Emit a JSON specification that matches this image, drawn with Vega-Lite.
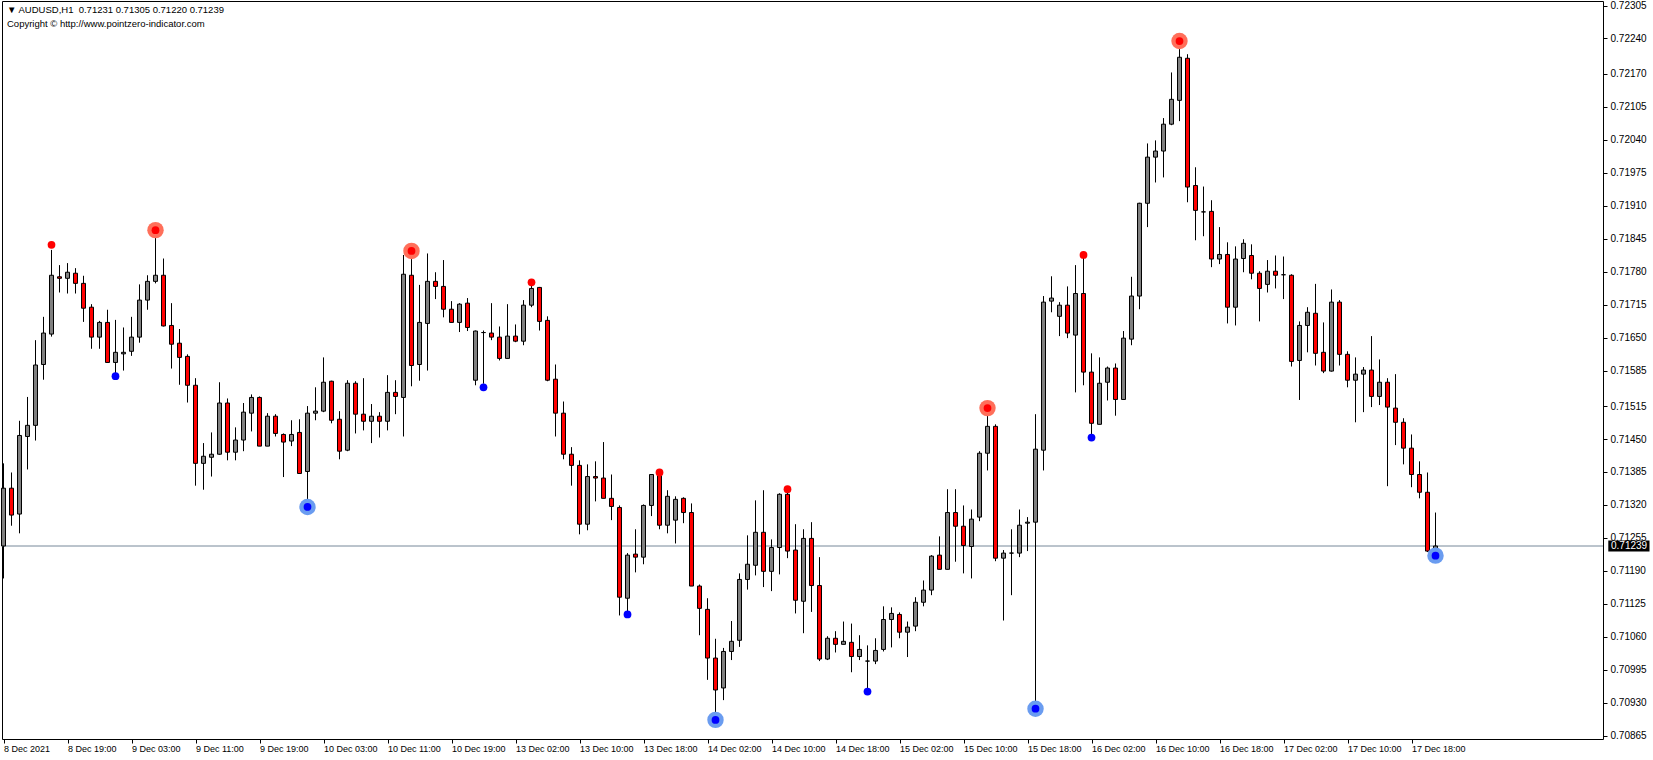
{
  "$schema": "https://vega.github.io/schema/vega-lite/v6.json",
  "width": 1601,
  "height": 738,
  "autosize": "none",
  "padding": {"left": 2, "top": 1, "right": 50, "bottom": 21},
  "background": "white",
  "title": {
    "text": "▼ AUDUSD,H1 \u00a00.71231 0.71305 0.71220 0.71239",
    "subtitle": "Copyright © http://www.pointzero-indicator.com",
    "anchor": "start",
    "frame": "group",
    "orient": "top",
    "baseline": "top",
    "offset": 0,
    "dx": 5,
    "dy": 28,
    "font": "Liberation Sans",
    "fontSize": 9.5,
    "fontWeight": "normal",
    "color": "black",
    "subtitleFont": "Liberation Sans",
    "subtitleFontSize": 9.5,
    "subtitleColor": "black",
    "subtitlePadding": 5
  },
  "config": {
    "view": {"stroke": "black", "strokeWidth": 1},
    "axis": {
      "labelFont": "Liberation Sans",
      "labelFontSize": 10,
      "labelColor": "black",
      "tickColor": "black",
      "tickSize": 4,
      "domain": false,
      "grid": false,
      "title": null,
      "labelFlush": false,
      "labelOverlap": false,
      "labelBound": false
    }
  },
  "datasets": {
    "candles": [
      {"i":0,"o":0.71239,"h":0.71402,"l":0.71175,"c":0.71353},
      {"i":1,"o":0.71353,"h":0.71384,"l":0.71279,"c":0.71300},
      {"i":2,"o":0.71302,"h":0.71486,"l":0.71264,"c":0.71457},
      {"i":3,"o":0.71455,"h":0.71533,"l":0.71390,"c":0.71477},
      {"i":4,"o":0.71477,"h":0.71645,"l":0.71447,"c":0.71596},
      {"i":5,"o":0.71597,"h":0.71691,"l":0.71567,"c":0.71659},
      {"i":6,"o":0.71657,"h":0.71823,"l":0.71652,"c":0.71773},
      {"i":7,"o":0.71770,"h":0.71793,"l":0.71739,"c":0.71767},
      {"i":8,"o":0.71767,"h":0.71797,"l":0.71737,"c":0.71779},
      {"i":9,"o":0.71777,"h":0.71787,"l":0.71737,"c":0.71757},
      {"i":10,"o":0.71757,"h":0.71772,"l":0.71681,"c":0.71708},
      {"i":11,"o":0.71710,"h":0.71716,"l":0.71628,"c":0.71651},
      {"i":12,"o":0.71651,"h":0.71683,"l":0.71628,"c":0.71680},
      {"i":13,"o":0.71680,"h":0.71705,"l":0.71601,"c":0.71601},
      {"i":14,"o":0.71601,"h":0.71685,"l":0.71580,"c":0.71621},
      {"i":15,"o":0.71618,"h":0.71670,"l":0.71585,"c":0.71621},
      {"i":16,"o":0.71623,"h":0.71691,"l":0.71614,"c":0.71651},
      {"i":17,"o":0.71651,"h":0.71755,"l":0.71640,"c":0.71724},
      {"i":18,"o":0.71724,"h":0.71773,"l":0.71705,"c":0.71761},
      {"i":19,"o":0.71761,"h":0.71862,"l":0.71757,"c":0.71773},
      {"i":20,"o":0.71773,"h":0.71806,"l":0.71672,"c":0.71673},
      {"i":21,"o":0.71674,"h":0.71718,"l":0.71589,"c":0.71637},
      {"i":22,"o":0.71639,"h":0.71667,"l":0.71557,"c":0.71611},
      {"i":23,"o":0.71613,"h":0.71617,"l":0.71522,"c":0.71556},
      {"i":24,"o":0.71556,"h":0.71570,"l":0.71358,"c":0.71402},
      {"i":25,"o":0.71402,"h":0.71442,"l":0.71350,"c":0.71416},
      {"i":26,"o":0.71414,"h":0.71463,"l":0.71376,"c":0.71420},
      {"i":27,"o":0.71420,"h":0.71562,"l":0.71419,"c":0.71521},
      {"i":28,"o":0.71521,"h":0.71530,"l":0.71408,"c":0.71424},
      {"i":29,"o":0.71424,"h":0.71473,"l":0.71408,"c":0.71448},
      {"i":30,"o":0.71448,"h":0.71521,"l":0.71426,"c":0.71503},
      {"i":31,"o":0.71501,"h":0.71538,"l":0.71465,"c":0.71532},
      {"i":32,"o":0.71532,"h":0.71534,"l":0.71436,"c":0.71436},
      {"i":33,"o":0.71436,"h":0.71501,"l":0.71436,"c":0.71495},
      {"i":34,"o":0.71495,"h":0.71499,"l":0.71455,"c":0.71461},
      {"i":35,"o":0.71459,"h":0.71461,"l":0.71375,"c":0.71444},
      {"i":36,"o":0.71446,"h":0.71487,"l":0.71436,"c":0.71459},
      {"i":37,"o":0.71463,"h":0.71489,"l":0.71382,"c":0.71382},
      {"i":38,"o":0.71386,"h":0.71515,"l":0.71318,"c":0.71501},
      {"i":39,"o":0.71501,"h":0.71552,"l":0.71487,"c":0.71505},
      {"i":40,"o":0.71505,"h":0.71611,"l":0.71503,"c":0.71562},
      {"i":41,"o":0.71564,"h":0.71565,"l":0.71481,"c":0.71487},
      {"i":42,"o":0.71489,"h":0.71505,"l":0.71410,"c":0.71426},
      {"i":43,"o":0.71428,"h":0.71566,"l":0.71426,"c":0.71560},
      {"i":44,"o":0.71560,"h":0.71564,"l":0.71461,"c":0.71499},
      {"i":45,"o":0.71499,"h":0.71570,"l":0.71467,"c":0.71485},
      {"i":46,"o":0.71485,"h":0.71519,"l":0.71442,"c":0.71495},
      {"i":47,"o":0.71495,"h":0.71503,"l":0.71453,"c":0.71485},
      {"i":48,"o":0.71485,"h":0.71576,"l":0.71467,"c":0.71542},
      {"i":49,"o":0.71542,"h":0.71566,"l":0.71499,"c":0.71534},
      {"i":50,"o":0.71532,"h":0.71813,"l":0.71455,"c":0.71775},
      {"i":51,"o":0.71773,"h":0.71819,"l":0.71554,"c":0.71595},
      {"i":52,"o":0.71597,"h":0.71754,"l":0.71565,"c":0.71680},
      {"i":53,"o":0.71678,"h":0.71816,"l":0.71585,"c":0.71761},
      {"i":54,"o":0.71761,"h":0.71779,"l":0.71726,"c":0.71751},
      {"i":55,"o":0.71751,"h":0.71803,"l":0.71690,"c":0.71706},
      {"i":56,"o":0.71706,"h":0.71722,"l":0.71680,"c":0.71680},
      {"i":57,"o":0.71680,"h":0.71718,"l":0.71661,"c":0.71716},
      {"i":58,"o":0.71718,"h":0.71728,"l":0.71663,"c":0.71670},
      {"i":59,"o":0.71566,"h":0.71664,"l":0.71556,"c":0.71663},
      {"i":60,"o":0.71660,"h":0.71664,"l":0.71559,"c":0.71660},
      {"i":61,"o":0.71659,"h":0.71718,"l":0.71645,"c":0.71651},
      {"i":62,"o":0.71651,"h":0.71672,"l":0.71605,"c":0.71609},
      {"i":63,"o":0.71609,"h":0.71716,"l":0.71609,"c":0.71653},
      {"i":64,"o":0.71653,"h":0.71676,"l":0.71641,"c":0.71643},
      {"i":65,"o":0.71643,"h":0.71724,"l":0.71635,"c":0.71714},
      {"i":66,"o":0.71714,"h":0.71759,"l":0.71710,"c":0.71747},
      {"i":67,"o":0.71749,"h":0.71750,"l":0.71664,"c":0.71682},
      {"i":68,"o":0.71684,"h":0.71692,"l":0.71564,"c":0.71566},
      {"i":69,"o":0.71568,"h":0.71597,"l":0.71455,"c":0.71501},
      {"i":70,"o":0.71501,"h":0.71524,"l":0.71410,"c":0.71420},
      {"i":71,"o":0.71420,"h":0.71434,"l":0.71358,"c":0.71398},
      {"i":72,"o":0.71398,"h":0.71408,"l":0.71262,"c":0.71282},
      {"i":73,"o":0.71282,"h":0.71400,"l":0.71270,"c":0.71376},
      {"i":74,"o":0.71376,"h":0.71406,"l":0.71327,"c":0.71373},
      {"i":75,"o":0.71373,"h":0.71444,"l":0.71333,"c":0.71333},
      {"i":76,"o":0.71333,"h":0.71380,"l":0.71290,"c":0.71317},
      {"i":77,"o":0.71315,"h":0.71319,"l":0.71102,"c":0.71138},
      {"i":78,"o":0.71136,"h":0.71225,"l":0.71109,"c":0.71221},
      {"i":79,"o":0.71223,"h":0.71272,"l":0.71187,"c":0.71217},
      {"i":80,"o":0.71217,"h":0.71321,"l":0.71203,"c":0.71319},
      {"i":81,"o":0.71319,"h":0.71381,"l":0.71298,"c":0.71380},
      {"i":82,"o":0.71378,"h":0.71388,"l":0.71272,"c":0.71280},
      {"i":83,"o":0.71280,"h":0.71349,"l":0.71264,"c":0.71337},
      {"i":84,"o":0.71290,"h":0.71337,"l":0.71244,"c":0.71331},
      {"i":85,"o":0.71333,"h":0.71335,"l":0.71284,"c":0.71305},
      {"i":86,"o":0.71305,"h":0.71323,"l":0.71160,"c":0.71160},
      {"i":87,"o":0.71160,"h":0.71163,"l":0.71063,"c":0.71116},
      {"i":88,"o":0.71114,"h":0.71136,"l":0.70975,"c":0.71018},
      {"i":89,"o":0.71018,"h":0.71056,"l":0.70896,"c":0.70955},
      {"i":90,"o":0.70959,"h":0.71038,"l":0.70935,"c":0.71031},
      {"i":91,"o":0.71031,"h":0.71091,"l":0.71014,"c":0.71051},
      {"i":92,"o":0.71053,"h":0.71185,"l":0.71040,"c":0.71173},
      {"i":93,"o":0.71173,"h":0.71260,"l":0.71153,"c":0.71203},
      {"i":94,"o":0.71201,"h":0.71329,"l":0.71181,"c":0.71266},
      {"i":95,"o":0.71266,"h":0.71349,"l":0.71158,"c":0.71189},
      {"i":96,"o":0.71189,"h":0.71252,"l":0.71150,"c":0.71236},
      {"i":97,"o":0.71236,"h":0.71343,"l":0.71183,"c":0.71341},
      {"i":98,"o":0.71341,"h":0.71353,"l":0.71215,"c":0.71229},
      {"i":99,"o":0.71231,"h":0.71282,"l":0.71106,"c":0.71132},
      {"i":100,"o":0.71130,"h":0.71272,"l":0.71067,"c":0.71254},
      {"i":101,"o":0.71254,"h":0.71286,"l":0.71109,"c":0.71161},
      {"i":102,"o":0.71161,"h":0.71217,"l":0.71012,"c":0.71016},
      {"i":103,"o":0.71016,"h":0.71061,"l":0.71014,"c":0.71057},
      {"i":104,"o":0.71057,"h":0.71071,"l":0.71029,"c":0.71045},
      {"i":105,"o":0.71045,"h":0.71090,"l":0.71045,"c":0.71051},
      {"i":106,"o":0.71049,"h":0.71086,"l":0.70990,"c":0.71021},
      {"i":107,"o":0.71021,"h":0.71063,"l":0.71014,"c":0.71035},
      {"i":108,"o":0.71012,"h":0.71043,"l":0.70957,"c":0.71012},
      {"i":109,"o":0.71012,"h":0.71057,"l":0.71006,"c":0.71033},
      {"i":110,"o":0.71035,"h":0.71120,"l":0.71031,"c":0.71094},
      {"i":111,"o":0.71094,"h":0.71118,"l":0.71039,"c":0.71106},
      {"i":112,"o":0.71104,"h":0.71108,"l":0.71057,"c":0.71069},
      {"i":113,"o":0.71069,"h":0.71090,"l":0.71020,"c":0.71079},
      {"i":114,"o":0.71081,"h":0.71138,"l":0.71071,"c":0.71128},
      {"i":115,"o":0.71128,"h":0.71171,"l":0.71120,"c":0.71152},
      {"i":116,"o":0.71152,"h":0.71221,"l":0.71142,"c":0.71219},
      {"i":117,"o":0.71221,"h":0.71258,"l":0.71193,"c":0.71193},
      {"i":118,"o":0.71193,"h":0.71351,"l":0.71193,"c":0.71305},
      {"i":119,"o":0.71305,"h":0.71351,"l":0.71208,"c":0.71278},
      {"i":120,"o":0.71278,"h":0.71319,"l":0.71185,"c":0.71240},
      {"i":121,"o":0.71238,"h":0.71311,"l":0.71175,"c":0.71292},
      {"i":122,"o":0.71296,"h":0.71426,"l":0.71288,"c":0.71422},
      {"i":123,"o":0.71422,"h":0.71509,"l":0.71388,"c":0.71475},
      {"i":124,"o":0.71475,"h":0.71479,"l":0.71209,"c":0.71215},
      {"i":125,"o":0.71215,"h":0.71231,"l":0.71092,"c":0.71225},
      {"i":126,"o":0.71225,"h":0.71272,"l":0.71142,"c":0.71225},
      {"i":127,"o":0.71225,"h":0.71311,"l":0.71217,"c":0.71280},
      {"i":128,"o":0.71284,"h":0.71296,"l":0.71229,"c":0.71286},
      {"i":129,"o":0.71286,"h":0.71499,"l":0.70920,"c":0.71430},
      {"i":130,"o":0.71428,"h":0.71732,"l":0.71388,"c":0.71720},
      {"i":131,"o":0.71722,"h":0.71771,"l":0.71700,"c":0.71728},
      {"i":132,"o":0.71692,"h":0.71720,"l":0.71653,"c":0.71714},
      {"i":133,"o":0.71714,"h":0.71751,"l":0.71649,"c":0.71659},
      {"i":134,"o":0.71655,"h":0.71793,"l":0.71542,"c":0.71737},
      {"i":135,"o":0.71737,"h":0.71808,"l":0.71556,"c":0.71582},
      {"i":136,"o":0.71582,"h":0.71619,"l":0.71458,"c":0.71481},
      {"i":137,"o":0.71479,"h":0.71611,"l":0.71479,"c":0.71560},
      {"i":138,"o":0.71562,"h":0.71593,"l":0.71526,"c":0.71590},
      {"i":139,"o":0.71590,"h":0.71599,"l":0.71496,"c":0.71528},
      {"i":140,"o":0.71528,"h":0.71663,"l":0.71527,"c":0.71649},
      {"i":141,"o":0.71647,"h":0.71770,"l":0.71635,"c":0.71732},
      {"i":142,"o":0.71732,"h":0.71916,"l":0.71706,"c":0.71915},
      {"i":143,"o":0.71915,"h":0.72033,"l":0.71868,"c":0.72006},
      {"i":144,"o":0.72006,"h":0.72039,"l":0.71956,"c":0.72018},
      {"i":145,"o":0.72018,"h":0.72083,"l":0.71966,"c":0.72071},
      {"i":146,"o":0.72071,"h":0.72173,"l":0.72069,"c":0.72120},
      {"i":147,"o":0.72118,"h":0.72235,"l":0.72077,"c":0.72203},
      {"i":148,"o":0.72201,"h":0.72209,"l":0.71917,"c":0.71947},
      {"i":149,"o":0.71950,"h":0.71986,"l":0.71842,"c":0.71901},
      {"i":150,"o":0.71898,"h":0.71948,"l":0.71850,"c":0.71898},
      {"i":151,"o":0.71899,"h":0.71921,"l":0.71789,"c":0.71805},
      {"i":152,"o":0.71805,"h":0.71868,"l":0.71795,"c":0.71814},
      {"i":153,"o":0.71814,"h":0.71838,"l":0.71678,"c":0.71710},
      {"i":154,"o":0.71710,"h":0.71830,"l":0.71674,"c":0.71805},
      {"i":155,"o":0.71806,"h":0.71844,"l":0.71779,"c":0.71836},
      {"i":156,"o":0.71812,"h":0.71834,"l":0.71765,"c":0.71777},
      {"i":157,"o":0.71777,"h":0.71781,"l":0.71682,"c":0.71747},
      {"i":158,"o":0.71755,"h":0.71803,"l":0.71739,"c":0.71781},
      {"i":159,"o":0.71781,"h":0.71812,"l":0.71747,"c":0.71773},
      {"i":160,"o":0.71774,"h":0.71810,"l":0.71726,"c":0.71774},
      {"i":161,"o":0.71773,"h":0.71775,"l":0.71593,"c":0.71603},
      {"i":162,"o":0.71605,"h":0.71682,"l":0.71527,"c":0.71674},
      {"i":163,"o":0.71674,"h":0.71710,"l":0.71621,"c":0.71700},
      {"i":164,"o":0.71698,"h":0.71756,"l":0.71595,"c":0.71619},
      {"i":165,"o":0.71621,"h":0.71680,"l":0.71580,"c":0.71584},
      {"i":166,"o":0.71584,"h":0.71745,"l":0.71583,"c":0.71720},
      {"i":167,"o":0.71720,"h":0.71724,"l":0.71595,"c":0.71617},
      {"i":168,"o":0.71617,"h":0.71623,"l":0.71552,"c":0.71566},
      {"i":169,"o":0.71566,"h":0.71611,"l":0.71483,"c":0.71578},
      {"i":170,"o":0.71578,"h":0.71592,"l":0.71503,"c":0.71586},
      {"i":171,"o":0.71586,"h":0.71653,"l":0.71513,"c":0.71534},
      {"i":172,"o":0.71534,"h":0.71607,"l":0.71517,"c":0.71562},
      {"i":173,"o":0.71562,"h":0.71570,"l":0.71357,"c":0.71513},
      {"i":174,"o":0.71511,"h":0.71578,"l":0.71438,"c":0.71483},
      {"i":175,"o":0.71483,"h":0.71491,"l":0.71400,"c":0.71432},
      {"i":176,"o":0.71432,"h":0.71459,"l":0.71355,"c":0.71380},
      {"i":177,"o":0.71380,"h":0.71406,"l":0.71333,"c":0.71345},
      {"i":178,"o":0.71345,"h":0.71384,"l":0.71227,"c":0.71229},
      {"i":179,"o":0.71231,"h":0.71305,"l":0.71220,"c":0.71239}
    ],
    "fractals": [
      {"i":6,"p":0.71833,"dir":"up","big":false},
      {"i":66,"p":0.71759,"dir":"up","big":false},
      {"i":82,"p":0.71384,"dir":"up","big":false},
      {"i":98,"p":0.71351,"dir":"up","big":false},
      {"i":135,"p":0.71813,"dir":"up","big":false},
      {"i":19,"p":0.71862,"dir":"up","big":true},
      {"i":51,"p":0.71821,"dir":"up","big":true},
      {"i":123,"p":0.71511,"dir":"up","big":true},
      {"i":147,"p":0.72235,"dir":"up","big":true},
      {"i":14,"p":0.71574,"dir":"down","big":false},
      {"i":60,"p":0.71552,"dir":"down","big":false},
      {"i":78,"p":0.71104,"dir":"down","big":false},
      {"i":108,"p":0.70952,"dir":"down","big":false},
      {"i":136,"p":0.71453,"dir":"down","big":false},
      {"i":38,"p":0.71316,"dir":"down","big":true},
      {"i":89,"p":0.70896,"dir":"down","big":true},
      {"i":129,"p":0.70918,"dir":"down","big":true},
      {"i":179,"p":0.71220,"dir":"down","big":true}
    ],
    "last": [{"p": 0.71239, "label": "0.71239"}]
  },
  "encoding": {
    "x": {
      "type": "quantitative",
      "scale": {"domain": [-0.1875, 199.9375], "nice": false, "zero": false, "padding": 0},
      "axis": {
        "values": [0,8,16,24,32,40,48,56,64,72,80,88,96,104,112,120,128,136,144,152,160,168,176],
        "labelExpr": "['8 Dec 2021','8 Dec 19:00','9 Dec 03:00','9 Dec 11:00','9 Dec 19:00','10 Dec 03:00','10 Dec 11:00','10 Dec 19:00','13 Dec 02:00','13 Dec 10:00','13 Dec 18:00','14 Dec 02:00','14 Dec 10:00','14 Dec 18:00','15 Dec 02:00','15 Dec 10:00','15 Dec 18:00','16 Dec 02:00','16 Dec 10:00','16 Dec 18:00','17 Dec 02:00','17 Dec 10:00','17 Dec 18:00'][round(datum.value/8)]",
        "labelAlign": "left",
        "labelBaseline": "top",
        "labelFontSize": 9,
        "labelPadding": 1,
        "labelOffset": 0
      }
    },
    "y": {
      "type": "quantitative",
      "scale": {"domain": [0.7085833, 0.7231395], "nice": false, "zero": false, "padding": 0},
      "axis": {
        "orient": "right",
        "values": [0.72305,0.72240,0.72170,0.72105,0.72040,0.71975,0.71910,0.71845,0.71780,0.71715,0.71650,0.71585,0.71515,0.71450,0.71385,0.71320,0.71255,0.71190,0.71125,0.71060,0.70995,0.70930,0.70865],
        "format": ".5f",
        "labelPadding": 3,
        "labelBaseline": "middle"
      }
    }
  },
  "layer": [
    {
      "data": {"name": "last"},
      "mark": {"type": "rule", "color": "#778899", "strokeWidth": 1},
      "encoding": {"y": {"field": "p", "type": "quantitative"}}
    },
    {
      "data": {"name": "candles"},
      "mark": {"type": "rule", "color": "black", "strokeWidth": 1},
      "encoding": {
        "x": {"field": "i", "type": "quantitative"},
        "y": {"field": "l", "type": "quantitative"},
        "y2": {"field": "h"}
      }
    },
    {
      "data": {"name": "candles"},
      "mark": {"type": "bar", "size": 4, "stroke": "black", "strokeWidth": 1},
      "encoding": {
        "x": {"field": "i", "type": "quantitative"},
        "y": {"field": "o", "type": "quantitative"},
        "y2": {"field": "c"},
        "color": {"condition": {"test": "datum.c < datum.o", "value": "#ff0000"}, "value": "#808080"}
      }
    },
    {
      "data": {"name": "fractals"},
      "transform": [{"filter": "datum.big"}],
      "mark": {"type": "point", "filled": true, "size": 270, "opacity": 1},
      "encoding": {
        "x": {"field": "i", "type": "quantitative"},
        "y": {"field": "p", "type": "quantitative"},
        "color": {"field": "dir", "type": "nominal", "scale": {"domain": ["up", "down"], "range": ["#ff6f5a", "#6a9cf0"]}, "legend": null}
      }
    },
    {
      "data": {"name": "fractals"},
      "mark": {"type": "point", "filled": true, "size": 60, "opacity": 1},
      "encoding": {
        "x": {"field": "i", "type": "quantitative"},
        "y": {"field": "p", "type": "quantitative"},
        "fill": {"field": "dir", "type": "nominal", "scale": {"domain": ["up", "down"], "range": ["#ff0000", "#0000ff"]}, "legend": null}
      }
    },
    {
      "data": {"name": "last"},
      "mark": {"type": "rect", "color": "black", "clip": false, "yOffset": -5.5, "y2Offset": 5.5},
      "encoding": {
        "x": {"datum": 200.6},
        "x2": {"datum": 205.75},
        "y": {"field": "p", "type": "quantitative"},
        "y2": {"field": "p"}
      }
    },
    {
      "data": {"name": "last"},
      "mark": {"type": "text", "color": "white", "clip": false, "align": "center", "baseline": "middle", "font": "Liberation Sans", "fontSize": 10},
      "encoding": {
        "x": {"datum": 203.2},
        "y": {"field": "p", "type": "quantitative"},
        "text": {"field": "label"}
      }
    }
  ],
  "resolve": {"scale": {"color": "independent"}}
}
